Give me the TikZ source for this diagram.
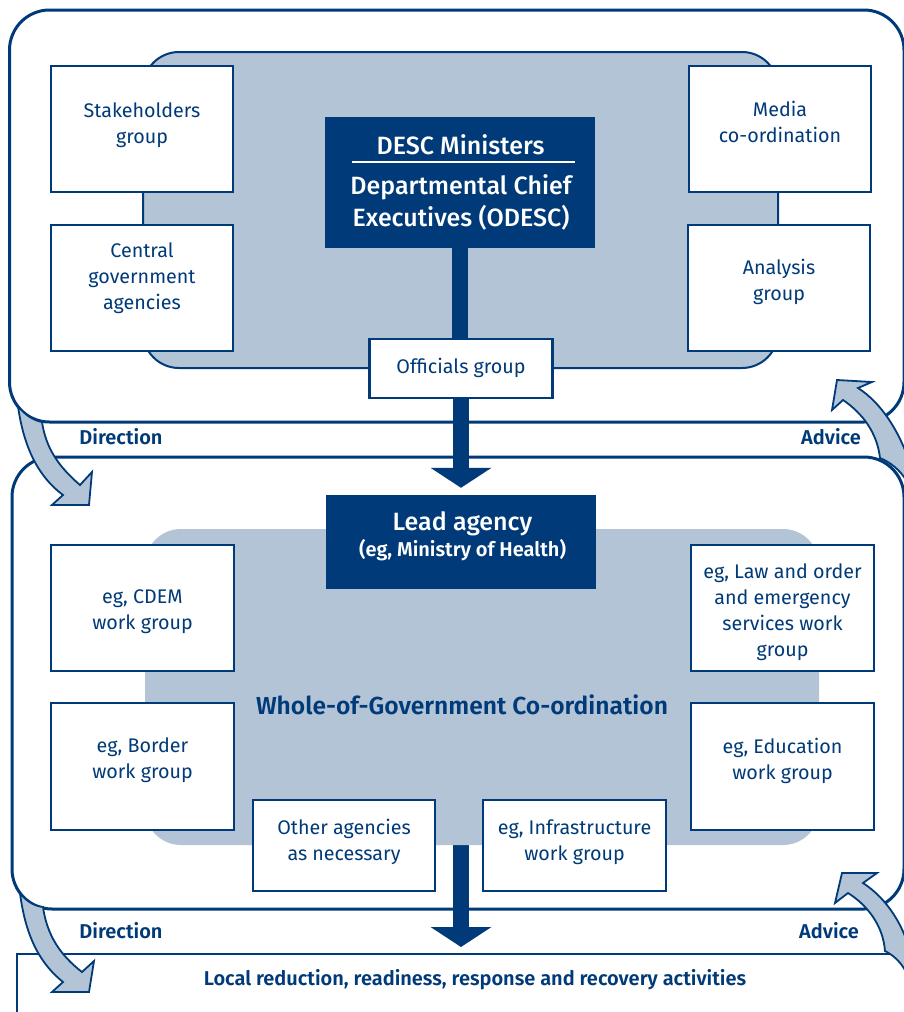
\documentclass[tikz,border=0pt]{standalone}
\usepackage{fontspec}
\setmainfont{Fira Sans}[BoldFont={Fira Sans SemiBold}]
\newfontfamily\firamed{Fira Sans Medium}
\usetikzlibrary{arrows.meta}
\definecolor{dblue}{RGB}{0,58,120}
\definecolor{lblue}{RGB}{179,196,214}
\tikzset{
  panel/.style={draw=dblue, line width=3pt, rounded corners=40pt, fill=white},
  area/.style={fill=lblue, rounded corners=36pt, inner sep=0pt},
  wbox/.style={draw=dblue, line width=2.2pt, fill=white, inner sep=0pt},
  dbox/.style={fill=dblue, inner sep=0pt},
  btext/.style={text=dblue, align=center, inner sep=0pt, font=\fontsize{19.7}{26}\selectfont},
  wtext/.style={text=white, align=center, inner sep=0pt, font=\firamed\fontsize{25}{32}\selectfont},
  bandlabel/.style={text=dblue, inner sep=0pt, font=\bfseries\fontsize{20}{22}\selectfont},
  bigarrow/.style={draw=dblue, line width=16pt, -{Triangle[width=60pt,length=20pt]}},
  blockarrow/.style={fill=lblue, draw=dblue, line width=1.8pt, line join=miter},
}
\begin{document}
\begin{tikzpicture}[x=1pt,y=-1pt]
\useasboundingbox (0,0) rectangle (903,1012);
% panels
\draw[panel] (9.5,10) rectangle (904,422);
\draw[panel] (12,457) rectangle (904,909);
\node[draw=dblue, line width=2.2pt, fill=white, anchor=north west, minimum width=910pt, minimum height=80pt, inner sep=0pt] (local) at (16,953) {};
% top area
\node[area, draw=dblue, line width=2pt, minimum width=635pt, minimum height=316pt] (odesc) at (460.5,210) {};
% boxes top
\node[dbox, minimum width=270pt, minimum height=131pt] (desc) at (460,182.5) {};
\node[wbox, minimum width=183pt, minimum height=59pt] (officials) at (461,368.5) {};
\draw[draw=dblue, line width=16pt] (desc.south) -- (desc.south |- officials.north);
% bottom bar (hidden behind coordination area)
\node[dbox, minimum width=270pt, minimum height=94pt] (lead) at (461,542) {};
\draw[bigarrow, shorten >=6pt] (lead.south) -- (lead.south |- local.north);
\node[area, minimum width=674pt, minimum height=316pt] (wog) at (482,687) {};
\node[dbox, minimum width=270pt, minimum height=94pt] at (lead) {};
\draw[bigarrow, shorten >=7pt] (officials.south) -- (officials.south |- lead.north);

\node[wbox, minimum width=182pt, minimum height=126pt] (stake) at (142,129) {};
\node[wbox, minimum width=182pt, minimum height=126pt] (central) at (142,288) {};
\node[wbox, minimum width=182pt, minimum height=126pt] (media) at (780,129) {};
\node[wbox, minimum width=182pt, minimum height=126pt] (analysis) at (779,288) {};

\node[wbox, minimum width=183pt, minimum height=126pt] (cdem) at (142.5,608) {};
\node[wbox, minimum width=183pt, minimum height=127pt] (border) at (142.5,766.5) {};
\node[wbox, minimum width=183pt, minimum height=126pt] (law) at (782.5,608) {};
\node[wbox, minimum width=183pt, minimum height=127pt] (edu) at (782.5,766.5) {};
\node[wbox, minimum width=182pt, minimum height=91pt] (other) at (344,845.5) {};
\node[wbox, minimum width=183pt, minimum height=91pt] (infra) at (574.5,845.5) {};

% texts
\node[btext] (stake-t) at ([yshift=4pt]stake.center) {Stakeholders\\group};
\node[btext] (central-t) at ([yshift=9.5pt]central.center) {Central\\government\\agencies};
\node[btext] (media-t) at ([yshift=7pt]media.center) {Media\\co-ordination};
\node[btext] (analysis-t) at ([yshift=6pt]analysis.center) {Analysis\\group};
\node[btext] (officials-t) at ([yshift=1pt]officials.center) {Officials group};
\node[btext] (cdem-t) at ([yshift=-4pt]cdem.center) {eg, CDEM\\work group};
\node[btext] (border-t) at ([yshift=6pt]border.center) {eg, Border\\work group};
\node[btext] (law-t) at ([yshift=-4pt]law.center) {eg, Law and order\\and emergency\\services work\\group};
\node[btext] (edu-t) at ([yshift=6pt]edu.center) {eg, Education\\work group};
\node[btext] (other-t) at ([yshift=3.5pt]other.center) {Other agencies\\as necessary};
\node[btext] (infra-t) at ([yshift=3.5pt]infra.center) {eg, Infrastructure\\work group};

\node[wtext] (desc-t1) at (460.5,145) {DESC Ministers};
\draw[white, line width=2pt] (352,162) -- (575,162);
\node[wtext] (desc-t2) at (461,202) {Departmental Chief\\Executives (ODESC)};
\node[wtext, font=\firamed\fontsize{25}{28}\selectfont] (lead-t1) at (462.5,524) {Lead agency};
\node[text=white, inner sep=0pt, font=\bfseries\fontsize{20}{22}\selectfont] (lead-t2) at (462.5,550) {(eg, Ministry of Health)};
\node[text=dblue, inner sep=0pt, font=\bfseries\fontsize{24.6}{28}\selectfont] (wog-t) at (462,705) {Whole-of-Government Co-ordination};
\node[text=dblue, inner sep=0pt, font=\bfseries\fontsize{20}{22}\selectfont] (local-t) at (475,980) {Local reduction, readiness, response and recovery activities};

\node[bandlabel] (dir1) at (121,437) {Direction};
\node[bandlabel] (adv1) at (831,437) {Advice};
\node[bandlabel] (dir2) at (121,931) {Direction};
\node[bandlabel] (adv2) at (829,931) {Advice};

% curved block arrows
\draw[blockarrow] (18,406) .. controls (24,450) and (40,478) .. (63,495) -- (52,505) -- (89,505) -- (92,472) -- (80,485)
  .. controls (58,466) and (46,448) .. (42,422) .. controls (32.3,420.2) and (24,413.9) .. (18,406) -- cycle;
\draw[blockarrow] (20,893) .. controls (26,940) and (42,965) .. (63,982) -- (52,992) -- (89,992) -- (94,961) -- (82,972)
  .. controls (60,955) and (47,935) .. (43,907) .. controls (34,906) and (26,901) .. (20,893) -- cycle;
\draw[blockarrow] (843,400) .. controls (862,413) and (877,432) .. (880,458) .. controls (890,462) and (900,470) .. (906,480)
  -- (912,470) .. controls (900,430) and (880,402) .. (858,388) -- (872,382) -- (837,380) -- (832,410) -- cycle;
\draw[blockarrow] (848,893) .. controls (867,905) and (883,925) .. (885,951) .. controls (893,955) and (901,962) .. (906,972)
  -- (912,960) .. controls (905,925) and (886,898) .. (863,883) -- (877,873) -- (842,873) -- (835,903) -- cycle;
\end{tikzpicture}
\end{document}
